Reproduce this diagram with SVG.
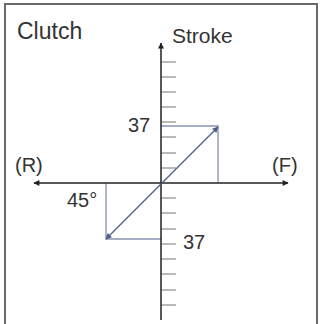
<svg xmlns="http://www.w3.org/2000/svg" width="322" height="324" viewBox="0 0 322 324">
<style>
text{font-family:"Liberation Sans",Arial,sans-serif;fill:#333}
.ax{stroke:#222;stroke-width:1.5;fill:none}
.tk{stroke:#777;stroke-width:1.2}
.bx{stroke:#8a92b2;stroke-width:1.3;fill:none}
.dg{stroke:#4e5c86;stroke-width:1.3;fill:none}
</style>
<defs>
<marker id="ah" viewBox="0 0 10 10" refX="9" refY="5" markerWidth="8" markerHeight="6" markerUnits="userSpaceOnUse" orient="auto-start-reverse">
<path d="M0,0L10,5L0,10z" fill="#222"/>
</marker>
<marker id="bh" viewBox="0 0 10 10" refX="9" refY="5" markerWidth="9" markerHeight="6" markerUnits="userSpaceOnUse" orient="auto-start-reverse">
<path d="M0,0L10,5L0,10z" fill="#4e5c86"/>
</marker>
</defs>
<rect x="5" y="4" width="312" height="330" fill="#fff" stroke="#6a6a6a" stroke-width="2"/>
<g id="ticks" class="tk">
<path d="M161,62h15M161,77h15M161,92h15M161,107h15M161,122h15M161,137h15M161,153h15M161,168h15M161,198h15M161,213h15M161,229h15M161,244h15M161,259h15M161,274h15M161,290h15M161,305h15"/>
</g>
<g id="boxes">
<path class="bx" d="M161,126H218V183"/>
<path class="bx" d="M106,183V239H161" stroke="#9fb0d2"/>
</g>
<g id="connectors">
<line class="ax" x1="161" y1="320" x2="161" y2="43" marker-end="url(#ah)"/>
<line class="ax" x1="34" y1="183" x2="288" y2="183" marker-start="url(#ah)" marker-end="url(#ah)"/>
<line class="dg" x1="106" y1="239" x2="218" y2="127" marker-start="url(#bh)" marker-end="url(#bh)"/>
</g>
<g id="labels">
<text x="17" y="39" font-size="23">Clutch</text>
<text x="172" y="43" font-size="21">Stroke</text>
<text x="128" y="132" font-size="20">37</text>
<text x="15" y="172" font-size="20">(R)</text>
<text x="272" y="172" font-size="20">(F)</text>
<text x="67" y="207" font-size="20">45°</text>
<text x="183" y="249" font-size="20">37</text>
</g>
</svg>
